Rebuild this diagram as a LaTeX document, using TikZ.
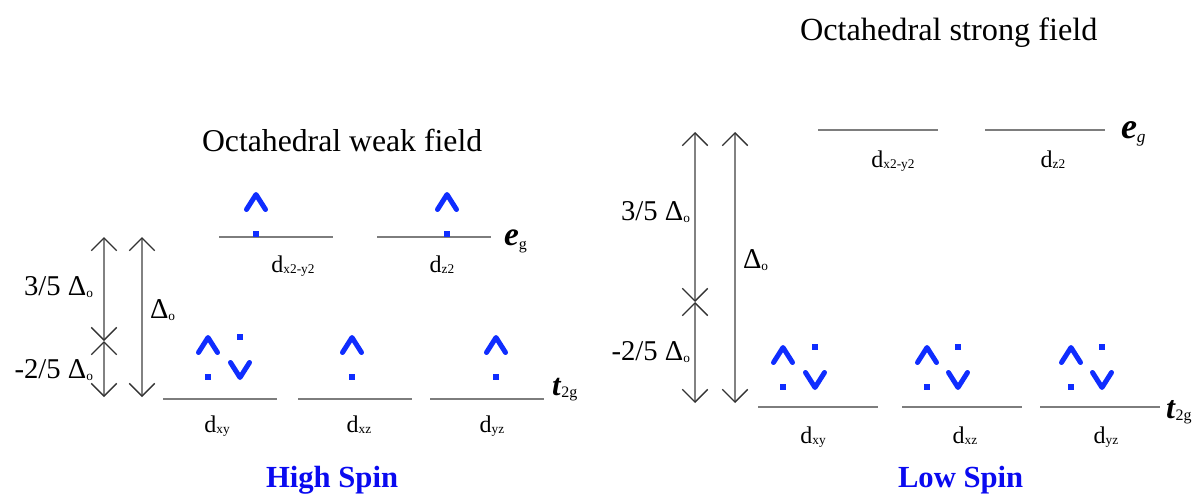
\documentclass[tikz,border=0pt]{standalone}
\usepackage{fontspec}
\setmainfont{Liberation Serif}
\usetikzlibrary{arrows.meta}
\definecolor{eblue}{RGB}{15,45,255}
\definecolor{hblue}{RGB}{10,10,240}
\definecolor{lvlgray}{RGB}{125,125,125}
\definecolor{shaftgray}{RGB}{130,130,130}
\definecolor{tipgray}{RGB}{50,50,50}
\newcommand\fs[1]{\fontsize{#1}{#1}\selectfont}
\newcommand\delo{Δ\raisebox{-1.5pt}{\fs{10}o}}
\newcommand\dorb[1]{{\fs{18}d}\raisebox{-1pt}{\fs{10}#1}}
\tikzset{
  lvl/.style={draw=lvlgray,line width=1.5pt},
  dimarrow/.style={draw=shaftgray,line width=1.3pt,
    {Straight Barb[length=9.5pt,width=19pt,line width=1pt,color=tipgray]}-{Straight Barb[length=9.5pt,width=19pt,line width=1pt,color=tipgray]}},
  espin/.style={draw=eblue,line width=3.75pt,line cap=round,line join=round},
  txt/.style={inner sep=0pt,outer sep=0pt},
  upe/.pic={\draw[espin] (-9.5,15)--(0,0)--(9.5,15); \fill[eblue] (-3,36) rectangle (3,42);},
  dne/.pic={\draw[espin] (-9.5,-15)--(0,0)--(9.5,-15); \fill[eblue] (-3,-44) rectangle (3,-38);}
}
\begin{document}
\begin{tikzpicture}[x=0.75pt,y=-0.75pt]
\useasboundingbox (0,0) rectangle (1200,493);
% ---------------- Left: weak field ----------------
\node[txt,anchor=base west] (tw) at (202,151) {\fs{23.8}Octahedral weak field};
% eg levels
\draw[lvl] (219,237) coordinate (eLa) -- (333,237) coordinate (eLb);
\draw[lvl] (377,237) coordinate (eLc) -- (491,237) coordinate (eLd);
\node[txt,anchor=base west] (egL) at (504,245) {\fs{25}\textbf{\textit{e}}\raisebox{-3pt}{\fs{12}g}};
\node[txt,anchor=base] (dx2L) at (293,272) {\dorb{x2-y2}};
\node[txt,anchor=base] (dz2L) at (442,272) {\dorb{z2}};
% t2g levels
\draw[lvl] (163,399) coordinate (tLa) -- (277,399) coordinate (tLb);
\draw[lvl] (298,399) coordinate (tLc) -- (412,399) coordinate (tLd);
\draw[lvl] (430,399) coordinate (tLe) -- (544,399) coordinate (tLf);
\node[txt,anchor=base west] (t2gL) at (552,395) {\fs{23}\textbf{\textit{t}}\raisebox{-2pt}{\fs{12}2g}};
\node[txt,anchor=base] (dxyL) at (217,432) {\dorb{xy}};
\node[txt,anchor=base] (dxzL) at (359,432) {\dorb{xz}};
\node[txt,anchor=base] (dyzL) at (492,432) {\dorb{yz}};
% electrons
\pic at (256,194.5) {upe};
\pic at (447,194.5) {upe};
\pic at (208,337.5) {upe};
\pic at (240,377.5) {dne};
\pic at (352,337.5) {upe};
\pic at (496,337.5) {upe};
% energy arrows
\coordinate (La) at (104,237);
\coordinate (Lm) at (104,341);
\coordinate (Lb) at (104,397);
\coordinate (Da) at (142,237);
\coordinate (Db) at (142,397);
\draw[dimarrow] (La) -- (Lm);
\draw[dimarrow] (Lm) -- (Lb);
\draw[dimarrow] (Da) -- (Db);
\node[txt,anchor=base east] (l35) at (93,295) {\fs{21.5}3/5 \delo};
\node[txt,anchor=base east] (l25) at (93,378) {\fs{21.5}-2/5 \delo};
\node[txt,anchor=base west] (lD) at (150,318) {\fs{21.5}\delo};
\node[txt,anchor=base west,text=hblue] (hs) at (266,487) {\fs{23}\textbf{High Spin}};
% ---------------- Right: strong field ----------------
\node[txt,anchor=base west] (ts) at (800,40) {\fs{24.2}Octahedral strong field};
\draw[lvl] (818,130) coordinate (eRa) -- (938,130) coordinate (eRb);
\draw[lvl] (985,130) coordinate (eRc) -- (1105,130) coordinate (eRd);
\node[txt,anchor=base west] (egR) at (1121,138) {\fs{27}\textbf{\textit{e}}\raisebox{-3pt}{\fs{13}\textit{g}}};
\node[txt,anchor=base] (dx2R) at (893,167) {\dorb{x2-y2}};
\node[txt,anchor=base] (dz2R) at (1053,167) {\dorb{z2}};
\draw[lvl] (758,407) coordinate (tRa) -- (878,407) coordinate (tRb);
\draw[lvl] (902,407) coordinate (tRc) -- (1022,407) coordinate (tRd);
\draw[lvl] (1040,407) coordinate (tRe) -- (1160,407) coordinate (tRf);
\node[txt,anchor=base west] (t2gR) at (1166,418) {\fs{24}\textbf{\textit{t}}\raisebox{-2pt}{\fs{12}2g}};
\node[txt,anchor=base] (dxyR) at (813,443) {\dorb{xy}};
\node[txt,anchor=base] (dxzR) at (965,443) {\dorb{xz}};
\node[txt,anchor=base] (dyzR) at (1106,443) {\dorb{yz}};
\pic at (783,347.5) {upe};
\pic at (815,387.5) {dne};
\pic at (927,347.5) {upe};
\pic at (958,387.5) {dne};
\pic at (1071,347.5) {upe};
\pic at (1102,387.5) {dne};
\coordinate (Ra) at (695,132);
\coordinate (Rm) at (695,302);
\coordinate (Rb) at (695,403);
\coordinate (Ea) at (735,132);
\coordinate (Eb) at (735,403);
\draw[dimarrow] (Ra) -- (Rm);
\draw[dimarrow] (Rm) -- (Rb);
\draw[dimarrow] (Ea) -- (Eb);
\node[txt,anchor=base east] (r35) at (690,220) {\fs{21.5}3/5 \delo};
\node[txt,anchor=base east] (r25) at (690,360) {\fs{21.5}-2/5 \delo};
\node[txt,anchor=base west] (rD) at (743,268) {\fs{21.5}\delo};
\node[txt,anchor=base west,text=hblue] (ls) at (898,487) {\fs{23}\textbf{Low Spin}};
\end{tikzpicture}
\end{document}
